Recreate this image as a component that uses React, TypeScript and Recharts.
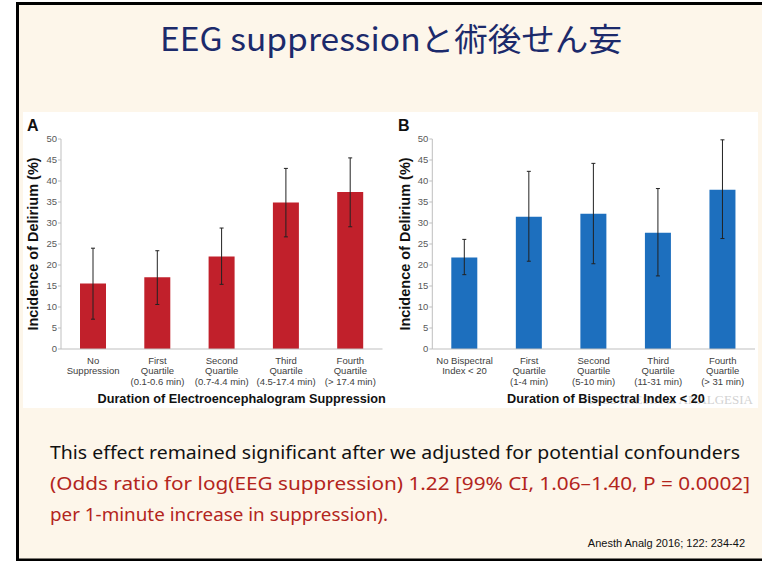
import React from 'react';
import { BarChart, Bar, XAxis, YAxis, ErrorBar } from 'recharts';

// ---- Data ----
const catsA = [
  'No\nSuppression',
  'First\nQuartile\n(0.1-0.6 min)',
  'Second\nQuartile\n(0.7-4.4 min)',
  'Third\nQuartile\n(4.5-17.4 min)',
  'Fourth\nQuartile\n(> 17.4 min)',
];
const valsA = [15.6, 17.1, 22.0, 34.9, 37.4];
const loA = [7.1, 10.6, 15.4, 26.7, 29.1];
const hiA = [24.0, 23.4, 28.8, 43.0, 45.5];

const catsB = [
  'No Bispectral\nIndex < 20',
  'First\nQuartile\n(1-4 min)',
  'Second\nQuartile\n(5-10 min)',
  'Third\nQuartile\n(11-31 min)',
  'Fourth\nQuartile\n(> 31 min)',
];
const valsB = [21.8, 31.5, 32.2, 27.7, 37.9];
const loB = [17.7, 20.9, 20.3, 17.4, 26.3];
const hiB = [26.1, 42.3, 44.2, 38.2, 49.8];

const yTicks = [0, 5, 10, 15, 20, 25, 30, 35, 40, 45, 50];

const titleText = 'EEG suppressionと術後せん妄';
const yTitle = 'Incidence of Delirium (%)';
const xTitleA = 'Duration of Electroencephalogram Suppression';
const xTitleB = 'Duration of Bispectral Index < 20';
const line1 = 'This effect remained significant after we adjusted for potential confounders';
const line2 = '(Odds ratio for log(EEG suppression) 1.22 [99% CI, 1.06–1.40, P = 0.0002]';
const line3 = 'per 1-minute increase in suppression).';
const citation = 'Anesth Analg 2016; 122: 234-42';
const watermark = 'ANESTHESIA & ANALGESIA';

const build = (cats: string[], vals: number[], lo: number[], hi: number[]) =>
  cats.map((c, i) => ({ cat: c, v: vals[i], err: [vals[i] - lo[i], hi[i] - vals[i]] }));

const dataA = build(catsA, valsA, loA, hiA);
const dataB = build(catsB, valsB, loB, hiB);

const FONT = '"Liberation Sans", Arial, sans-serif';

const CatTick = (props: any) => {
  const { x, y, payload } = props;
  const lines = String(payload.value).split('\n');
  return (
    <text x={x} y={y} textAnchor="middle" fontSize={9.5} fill="#404040" fontFamily={FONT}>
      {lines.map((l, i) => (
        <tspan key={i} x={x} dy={i === 0 ? 14.5 : 10.8}>
          {l}
        </tspan>
      ))}
    </text>
  );
};

const makeYLabel = (cx: number) => (props: any) => {
  const vb = props.viewBox || {};
  const cy = vb.y + vb.height / 2;
  return (
    <text
      x={cx}
      y={cy}
      transform={`rotate(-90 ${cx} ${cy})`}
      textAnchor="middle"
      dominantBaseline="central"
      fontSize={14.5}
      fontWeight="bold"
      fill="#111"
      fontFamily={FONT}
    >
      {yTitle}
    </text>
  );
};

const makeXLabel = (cx: number, cy: number, txt: string) => () => (
  <text x={cx} y={cy} textAnchor="middle" dominantBaseline="central" fontSize={12.7} fontWeight="bold" fill="#111" fontFamily={FONT}>
    {txt}
  </text>
);

type PanelProps = {
  data: any[];
  width: number;
  yAxisWidth: number;
  right: number;
  color: string;
  yLabelX: number;
  xLabelX: number;
  xTitle: string;
};

const Panel = ({ data, width, yAxisWidth, right, color, yLabelX, xLabelX, xTitle }: PanelProps) => (
  <BarChart width={width} height={300} data={data} margin={{ top: 29, right, bottom: 0, left: 0 }} barSize={26}>
    <XAxis
      dataKey="cat"
      interval={0}
      height={61}
      tickSize={0}
      tickMargin={0}
      tickLine={false}
      axisLine={{ stroke: '#bfbfbf' }}
      tick={<CatTick />}
      label={{ content: makeXLabel(xLabelX, 289, xTitle) }}
    />
    <YAxis
      width={yAxisWidth}
      domain={[0, 50]}
      ticks={yTicks}
      interval={0}
      tickSize={3}
      tickMargin={1}
      axisLine={{ stroke: '#bfbfbf' }}
      tickLine={{ stroke: '#bfbfbf' }}
      tick={{ fontSize: 9.5, fill: '#595959', fontFamily: FONT }}
      label={{ content: makeYLabel(yLabelX) }}
    />
    <Bar dataKey="v" fill={color} isAnimationActive={false}>
      <ErrorBar dataKey="err" width={2} stroke="#222" strokeWidth={1} direction="y" isAnimationActive={false} />
    </Bar>
  </BarChart>
);

export default function App() {
  return (
    <div style={{ position: 'absolute', left: 0, top: 0, width: 762, height: 561, overflow: 'hidden' }}>
      <svg width={762} height={561} style={{ position: 'absolute', left: 0, top: 0 }}>
        <rect x={17.5} y={3.5} width={800} height={556.5} fill="#fdf6ea" stroke="#000" strokeWidth={3} />
        <rect x={23} y={112} width={735} height={296} fill="#ffffff" />
        <text
          x={160}
          y={51}
          fontSize={32}
          fill="#1c2a6b"
          fontFamily='"Noto Sans CJK JP", "Noto Sans", sans-serif'
          textLength={462}
          lengthAdjust="spacingAndGlyphs"
        >
          {titleText}
        </text>
        <text x={27} y={131} fontSize={16} fontWeight="bold" fill="#111" fontFamily={FONT}>A</text>
        <text x={398} y={131} fontSize={16} fontWeight="bold" fill="#111" fontFamily={FONT}>B</text>
        <text x={753} y={404} textAnchor="end" fontSize={13} fill="#d2d2d2" fontFamily='"Liberation Serif", serif'>
          {watermark}
        </text>
        <text x={50} y={459} fontSize={18} fill="#111" fontFamily='"Noto Sans", sans-serif' textLength={690} lengthAdjust="spacingAndGlyphs">
          {line1}
        </text>
        <text x={50} y={490} fontSize={18} fill="#b3251d" fontFamily='"Noto Sans", sans-serif' textLength={700} lengthAdjust="spacingAndGlyphs">
          {line2}
        </text>
        <text x={50} y={521} fontSize={18} fill="#b3251d" fontFamily='"Noto Sans", sans-serif' textLength={338} lengthAdjust="spacingAndGlyphs">
          {line3}
        </text>
        <text x={745} y={547} textAnchor="end" fontSize={11} fill="#111" fontFamily={FONT}>
          {citation}
        </text>
      </svg>
      <div style={{ position: 'absolute', left: 20, top: 110 }}>
        <Panel data={dataA} width={370} yAxisWidth={41} right={7.5} color="#c1202b" yLabelX={13.3} xLabelX={221.7} xTitle={xTitleA} />
      </div>
      <div style={{ position: 'absolute', left: 390, top: 110 }}>
        <Panel data={dataB} width={372} yAxisWidth={42.3} right={7} color="#1d6fbe" yLabelX={15} xLabelX={216} xTitle={xTitleB} />
      </div>
    </div>
  );
}
